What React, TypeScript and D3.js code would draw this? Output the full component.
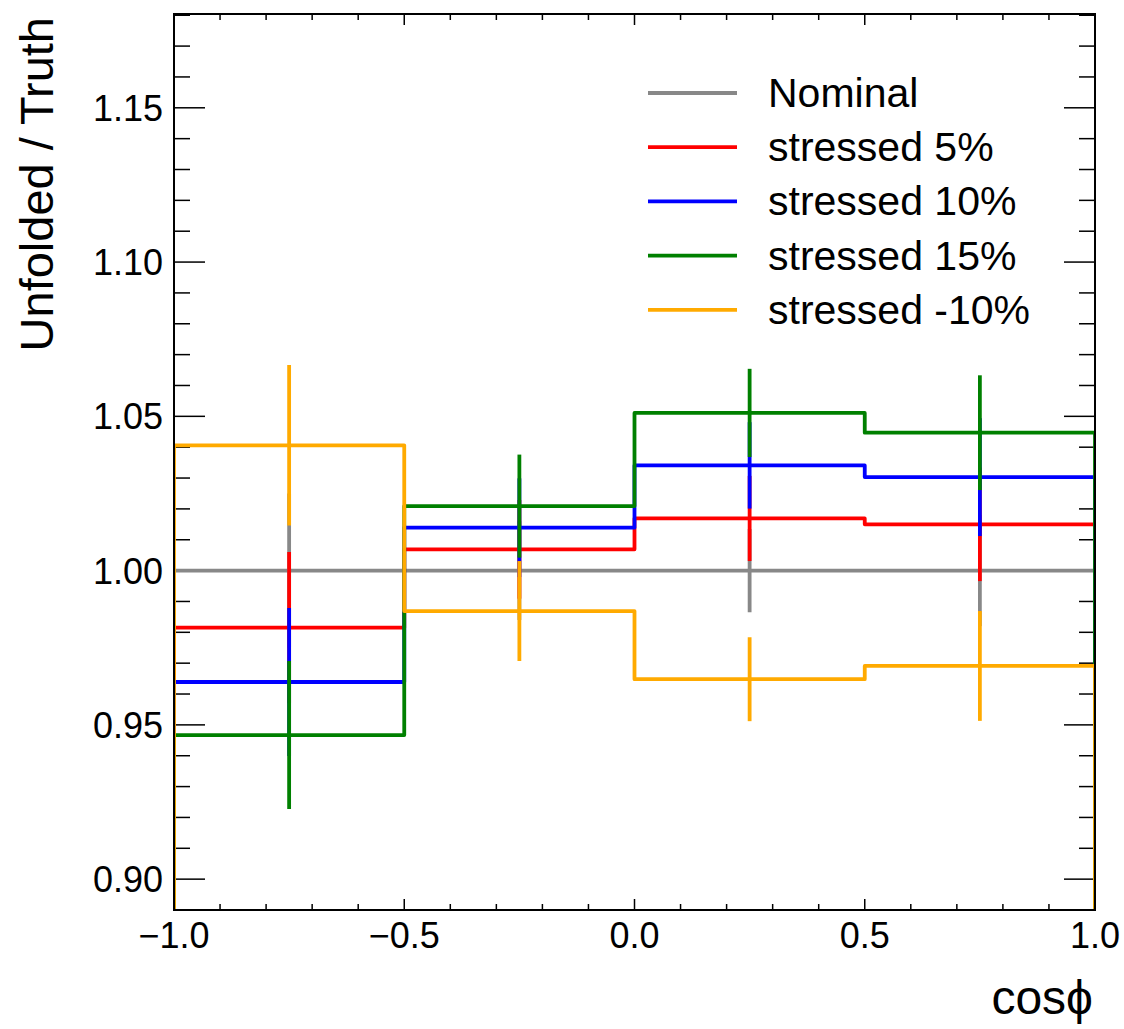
import React from "react";
import * as d3 from "d3";

// bin edges in cos(phi)
const binEdges = [-1.0, -0.5, 0.0, 0.5, 1.0];

const seriesNames = ["Nominal", "stressed 5%", "stressed 10%", "stressed 15%", "stressed -10%"];
const seriesColors = ["#888888", "#ff0000", "#0000ff", "#008000", "#ffaa00"];

// ratio unfolded / truth per bin
const nominalValues = [1.0, 1.0, 1.0, 1.0];
const stressed5Values = [0.9815, 1.0069, 1.0169, 1.015];
const stressed10Values = [0.9639, 1.0139, 1.0341, 1.0303];
const stressed15Values = [0.9467, 1.0209, 1.0511, 1.0447];
const stressedM10Values = [1.0406, 0.9869, 0.9648, 0.9691];

// statistical errors per bin
const nominalErrors = [0.025, 0.016, 0.0135, 0.018];
const stressed5Errors = [0.0245, 0.016, 0.0138, 0.0184];
const stressed10Errors = [0.024, 0.016, 0.014, 0.0191];
const stressed15Errors = [0.024, 0.0167, 0.0143, 0.0186];
const stressedM10Errors = [0.026, 0.0162, 0.0136, 0.0178];

const allValues = [nominalValues, stressed5Values, stressed10Values, stressed15Values, stressedM10Values];
const allErrors = [nominalErrors, stressed5Errors, stressed10Errors, stressed15Errors, stressedM10Errors];

const xTicks = [-1.0, -0.5, 0.0, 0.5, 1.0];
const yTicks = [0.9, 0.95, 1.0, 1.05, 1.1, 1.15];

const width = 1124;
const height = 1029;
const left = 174;
const right = 1095;
const top = 14;
const bottom = 910;
const font = "'Liberation Sans', Arial, Helvetica, sans-serif";

export default function App() {
  const x = d3.scaleLinear().domain([-1, 1]).range([left, right]);
  const y = d3.scaleLinear().domain([0.89, 1.1804]).range([bottom, top]);
  const yMin = y.domain()[0];

  const line = d3
    .line<[number, number]>()
    .x((d) => x(d[0]))
    .y((d) => y(d[1]));

  // step outline: up from the floor, across each bin, down to the floor
  const histPoints = (vals: number[]) => {
    const pts: [number, number][] = [[binEdges[0], yMin]];
    vals.forEach((v, i) => {
      pts.push([binEdges[i], v]);
      pts.push([binEdges[i + 1], v]);
    });
    pts.push([binEdges[binEdges.length - 1], yMin]);
    return pts;
  };

  const minorY = d3.range(0.89, 1.1801, 0.01);
  const minorX = d3.range(-1, 1.0001, 0.1);

  return (
    <svg
      width={width}
      height={height}
      style={{ position: "absolute", left: 0, top: 0, background: "white" }}
      fontFamily={font}
    >
      <defs>
        <clipPath id="plot">
          <rect x={left} y={top} width={right - left} height={bottom - top} />
        </clipPath>
      </defs>

      {/* ticks */}
      <g stroke="black" strokeWidth={1.5}>
        {minorY.map((t, i) => {
          const major = yTicks.some((m) => Math.abs(m - t) < 1e-6);
          const len = major ? 31 : 16;
          return (
            <g key={"y" + i}>
              <line x1={left} x2={left + len} y1={y(t)} y2={y(t)} />
              <line x1={right} x2={right - len} y1={y(t)} y2={y(t)} />
            </g>
          );
        })}
        {minorX.map((t, i) => {
          const major = xTicks.some((m) => Math.abs(m - t) < 1e-6);
          const len = major ? 11 : 6;
          return (
            <g key={"x" + i}>
              <line x1={x(t)} x2={x(t)} y1={bottom} y2={bottom - len} />
              <line x1={x(t)} x2={x(t)} y1={top} y2={top + len} />
            </g>
          );
        })}
      </g>

      {/* histograms */}
      <g clipPath="url(#plot)" fill="none" strokeWidth={3.8} strokeLinejoin="round">
        {allValues.map((vals, s) => (
          <g key={s} stroke={seriesColors[s]}>
            <path d={line(histPoints(vals)) || ""} />
            {vals.map((v, i) => {
              const c = (binEdges[i] + binEdges[i + 1]) / 2;
              const e = allErrors[s][i];
              return <line key={i} x1={x(c)} x2={x(c)} y1={y(v + e)} y2={y(v - e)} />;
            })}
          </g>
        ))}
      </g>

      {/* frame */}
      <rect x={left} y={top} width={right - left} height={bottom - top} fill="none" stroke="black" strokeWidth={2} />

      {/* tick labels */}
      <g fontSize={36} fill="black">
        {yTicks.map((t) => (
          <text key={t} x={left - 11} y={y(t)} dy="0.36em" textAnchor="end">
            {t.toFixed(2)}
          </text>
        ))}
        {xTicks.map((t) => (
          <text key={t} x={x(t)} y={948} textAnchor="middle">
            {t < 0 ? "\u2212" + Math.abs(t).toFixed(1) : t.toFixed(1)}
          </text>
        ))}
      </g>

      {/* axis titles */}
      <text x={right - 2} y={1014} fontSize={48} textAnchor="end">
        cosϕ
      </text>
      <text transform={`translate(53, ${top + 3}) rotate(-90)`} fontSize={47} textAnchor="end">
        Unfolded / Truth
      </text>

      {/* legend */}
      <g>
        {seriesNames.map((name, i) => {
          const ly = 93 + i * 54.2;
          return (
            <g key={name}>
              <line x1={648} x2={737} y1={ly} y2={ly} stroke={seriesColors[i]} strokeWidth={3.8} />
              <text x={768} y={ly + 14} fontSize={41}>
                {name}
              </text>
            </g>
          );
        })}
      </g>
    </svg>
  );
}
